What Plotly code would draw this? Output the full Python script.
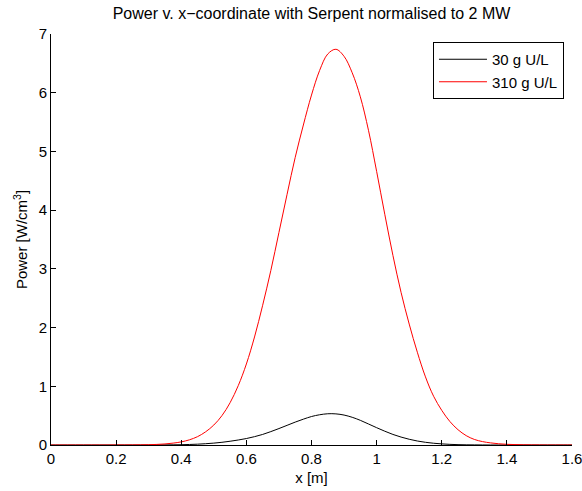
import plotly.graph_objects as go

# ---- data (x in m, power in W/cm^3) ----
x_pos = [0.000, 0.025, 0.050, 0.075, 0.100, 0.125, 0.150, 0.175, 0.200, 0.225,
         0.250, 0.275, 0.300, 0.325, 0.350, 0.375, 0.400, 0.425, 0.450, 0.475,
         0.500, 0.525, 0.550, 0.575, 0.600, 0.625, 0.650, 0.675, 0.700, 0.725,
         0.750, 0.775, 0.800, 0.825, 0.850, 0.875, 0.900, 0.925, 0.950, 0.975,
         1.000, 1.025, 1.050, 1.075, 1.100, 1.125, 1.150, 1.175, 1.200, 1.225,
         1.250, 1.275, 1.300, 1.325, 1.350, 1.375, 1.400, 1.425, 1.450, 1.475,
         1.500, 1.525, 1.550, 1.575, 1.600]

p_310 = [0.0, 0.0, 0.0, 0.0, 0.0, 0.0, 0.0, 0.0, 0.001, 0.001,
         0.002, 0.003, 0.005, 0.010, 0.018, 0.032, 0.053, 0.088, 0.142, 0.225,
         0.34, 0.50, 0.72, 1.01, 1.38, 1.84, 2.38, 2.97, 3.62, 4.27,
         4.90, 5.45, 5.96, 6.38, 6.66, 6.74, 6.62, 6.34, 5.93, 5.36,
         4.66, 3.93, 3.23, 2.60, 2.06, 1.58, 1.16, 0.83, 0.59, 0.40,
         0.26, 0.16, 0.095, 0.058, 0.036, 0.021, 0.012, 0.007, 0.004, 0.002,
         0.001, 0.0, 0.0, 0.0, 0.0]

p_30 = [0.0, 0.0, 0.0, 0.0, 0.0, 0.0, 0.0, 0.0, 0.0, 0.0,
        0.0, 0.0, 0.0, 0.001, 0.002, 0.003, 0.005, 0.009, 0.014, 0.022,
        0.032, 0.046, 0.064, 0.085, 0.11, 0.142, 0.18, 0.228, 0.28, 0.335,
        0.39, 0.44, 0.485, 0.515, 0.532, 0.53, 0.51, 0.472, 0.42, 0.358,
        0.295, 0.235, 0.18, 0.135, 0.098, 0.068, 0.046, 0.030, 0.019, 0.011,
        0.006, 0.003, 0.002, 0.001, 0.0, 0.0, 0.0, 0.0, 0.0, 0.0,
        0.0, 0.0, 0.0, 0.0, 0.0]

x_ticks = [0, 0.2, 0.4, 0.6, 0.8, 1.0, 1.2, 1.4, 1.6]
x_tick_labels = ["0", "0.2", "0.4", "0.6", "0.8", "1", "1.2", "1.4", "1.6"]
y_ticks = [0, 1, 2, 3, 4, 5, 6, 7]

series_names = ["30 g U/L", "310 g U/L"]
title_text = "Power v. x\u2212coordinate with Serpent normalised to 2 MW"
xlabel = "x [m]"
ylabel = "Power [W/cm<sup>3</sup>]"

FONT = "Liberation Sans, Arial, Helvetica, sans-serif"

fig = go.Figure()
fig.add_trace(go.Scatter(x=x_pos, y=p_30, mode="lines", name=series_names[0],
                         line=dict(color="#000000", width=1, shape="spline", smoothing=1)))
fig.add_trace(go.Scatter(x=x_pos, y=p_310, mode="lines", name=series_names[1],
                         line=dict(color="#ff0000", width=1, shape="spline", smoothing=1)))

axis_common = dict(showline=True, linecolor="#000000", linewidth=1, ticks="inside",
                   ticklen=5, tickcolor="#000000", showgrid=False, zeroline=False,
                   mirror=False, automargin=False, ticklabeloverflow="allow",
                   tickfont=dict(family=FONT, size=15, color="#000000"))

fig.update_layout(
    width=582, height=491,
    margin=dict(l=51, r=10, t=34, b=46, autoexpand=False),
    paper_bgcolor="white", plot_bgcolor="white",
    font=dict(family=FONT, size=15, color="#000000"),
    title=dict(text=title_text, x=(51 + 572) / 2 / 582, xanchor="center",
               y=1 - 13 / 491, yanchor="middle",
               font=dict(family=FONT, size=16, color="#000000")),
    xaxis=dict(range=[0, 1.6], tickmode="array", tickvals=x_ticks, ticktext=x_tick_labels,
               title=dict(text=xlabel, standoff=6, font=dict(family=FONT, size=15)),
               **axis_common),
    yaxis=dict(range=[0, 7], tickmode="array", tickvals=y_ticks,
               title=dict(text=ylabel, standoff=7, font=dict(family=FONT, size=15)),
               **axis_common),
    showlegend=True,
    legend=dict(x=0.9846, xanchor="right", y=0.9805, yanchor="top",
                bordercolor="#000000", borderwidth=1, bgcolor="white",
                font=dict(family=FONT, size=15, color="#000000"),
                tracegroupgap=0, itemwidth=48),
)

fig.write_html(
    "out.html",
    config={"displayModeBar": False},
    post_script="document.body.style.margin='0';document.body.style.overflow='hidden';",
)
